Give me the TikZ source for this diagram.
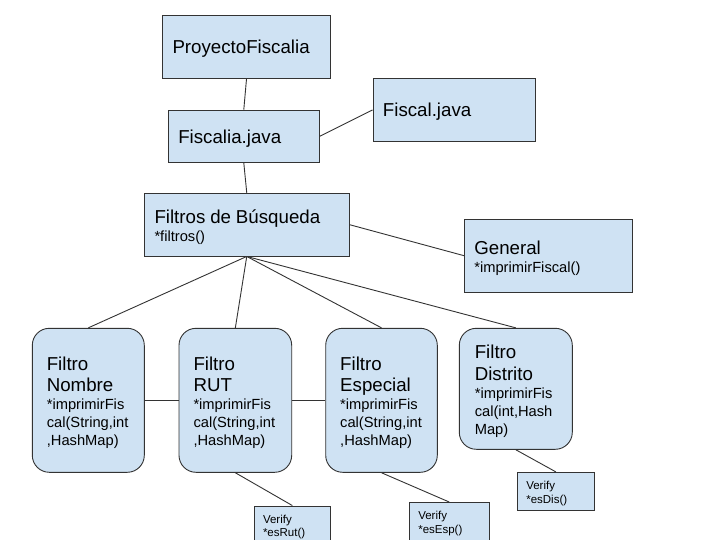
\documentclass[tikz,border=0pt]{standalone}
\usepackage{fontspec}
\setmainfont{Liberation Sans}
\newcommand{\bigf}{\fontsize{18.7pt}{21.7pt}\selectfont}
\newcommand{\smallf}{\fontsize{14.7pt}{18pt}\selectfont}
\newcommand{\tinyf}{\fontsize{11.5pt}{13.5pt}\selectfont}
\definecolor{boxfill}{HTML}{CFE2F3}
\definecolor{edge}{HTML}{333333}
\tikzset{
  bx/.style={draw=edge, fill=boxfill, line width=0.9pt, rectangle, inner xsep=10pt, inner ysep=2pt, align=left, text=black},
  onel/.style={bx, text depth=0pt},
  multl/.style={bx, text height=18.5pt},
  rbx/.style={multl, rounded corners=17pt, inner xsep=14.5pt},
  vbx/.style={bx, inner xsep=9pt, minimum height=38pt, font=\tinyf, text height=12.5pt},
  conn/.style={draw=edge, line width=0.9pt},
}
\begin{document}
\begin{tikzpicture}[x=1pt,y=-1pt]
\useasboundingbox (0,0) rectangle (720,540);
\clip (0,0) rectangle (720,540);
\fill[white] (0,0) rectangle (720,540);
% top boxes
\node[onel, text width=148pt, minimum height=63.5pt, font=\bigf] (proy) at (246.5,46.75) {ProyectoFiscalia};
\node[onel, text width=131pt, minimum height=52.5pt, font=\bigf] (fiscalia) at (243.8,136.25) {Fiscalia.java};
\node[onel, text width=142.7pt, minimum height=62.6pt, font=\bigf] (fiscal) at (454.3,110) {Fiscal.java};
\node[multl, text width=184.5pt, minimum height=62.7pt, font=\smallf] (filtros) at (246.75,224.65) {{\bigf Filtros de Búsqueda}\\{}*filtros()};
\node[multl, text width=148pt, minimum height=72.7pt, font=\smallf] (general) at (548.3,255.65) {{\bigf General}\\{}*imprimirFiscal()};
% filter boxes
\node[rbx, text width=83pt, minimum height=144pt, font=\smallf] (nombre) at (88.3,400.3) {{\bigf Filtro}\\[3.7pt]{\bigf Nombre}\\{}*imprimirFis\\cal(String,int\\,HashMap)};
\node[rbx, text width=83.7pt, minimum height=144pt, font=\smallf] (rut) at (235.35,400.3) {{\bigf Filtro}\\[3.7pt]{\bigf RUT}\\{}*imprimirFis\\cal(String,int\\,HashMap)};
\node[rbx, text width=82.6pt, minimum height=144pt, font=\smallf] (esp) at (381.5,400.3) {{\bigf Filtro}\\[3.7pt]{\bigf Especial}\\{}*imprimirFis\\cal(String,int\\,HashMap)};
\node[rbx, inner xsep=15.5pt, text width=82pt, minimum height=121pt, font=\smallf] (dist) at (515.8,388.8) {{\bigf Filtro}\\[3.7pt]{\bigf Distrito}\\{}*imprimirFis\\cal(int,Hash\\Map)};
% verify boxes
\node[vbx, text width=58.7pt] (vrut) at (292.35,525) {Verify\\{}*esRut()};
\node[vbx, text width=62pt] (vesp) at (449.3,521.5) {Verify\\{}*esEsp()};
\node[vbx, text width=59pt] (vdis) at (555.8,491.3) {Verify\\{}*esDis()};
% connectors
\draw[conn] (proy.south) -- (fiscalia.north);
\draw[conn] (fiscalia.south) -- (filtros.north);
\draw[conn] (fiscalia.east) -- (fiscal.west);
\draw[conn] (filtros.east) -- (general.west);
\draw[conn] (filtros.south) -- (nombre.north);
\draw[conn] (filtros.south) -- (rut.north);
\draw[conn] (filtros.south) -- (esp.north);
\draw[conn] (filtros.south) -- (dist.north);
\draw[conn] (nombre.east) -- (rut.west);
\draw[conn] (rut.east) -- (esp.west);
\draw[conn] (rut.south) -- (vrut.north);
\draw[conn] (esp.south) -- (vesp.north);
\draw[conn] (dist.south) -- (vdis.north);
\end{tikzpicture}
\end{document}
